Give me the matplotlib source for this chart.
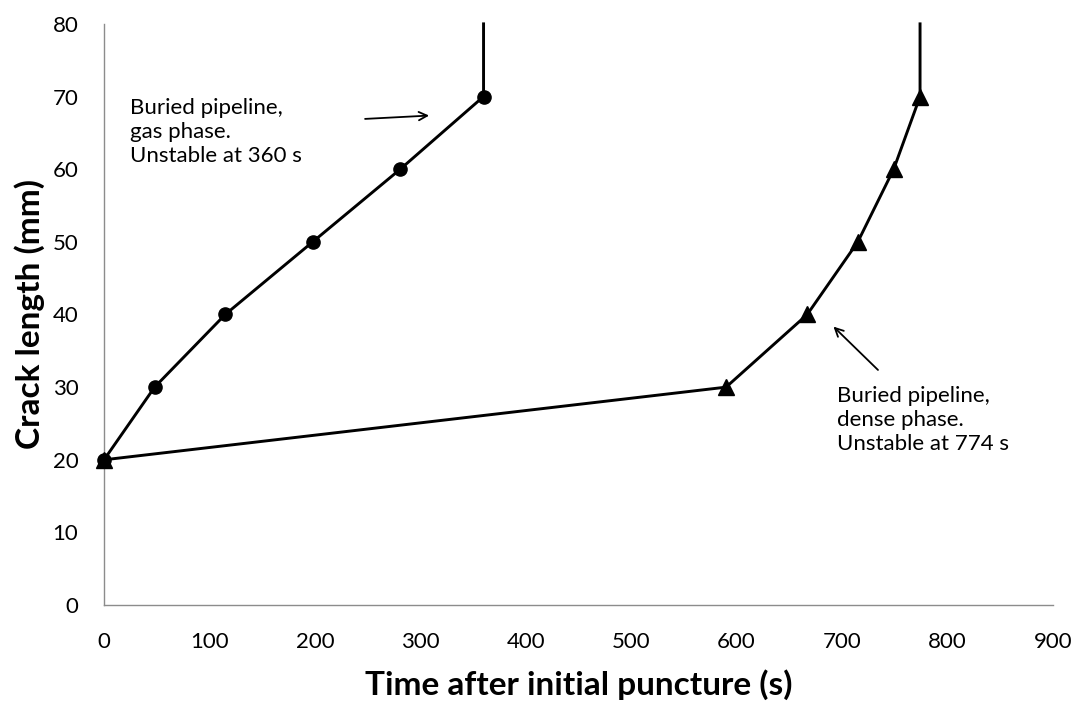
import matplotlib.pyplot as plt

plt.rcParams['font.family'] = ['Lato', 'DejaVu Sans']

# gas phase: crack length vs time, last point goes vertical (unstable)
gas_time = [0, 48, 115, 198, 281, 360, 360]
gas_crack = [20, 30, 40, 50, 60, 70, 80]

# dense phase
dense_time = [0, 590, 667, 715, 749, 774, 774]
dense_crack = [20, 30, 40, 50, 60, 70, 80]

x_ticks = [0, 100, 200, 300, 400, 500, 600, 700, 800, 900]
y_ticks = [0, 10, 20, 30, 40, 50, 60, 70, 80]

fig = plt.figure(figsize=(10.81, 7.02), dpi=100)
ax = fig.add_axes([0.0962, 0.138, 0.8778, 0.828])

ax.plot(dense_time, dense_crack, color='black', lw=2.1, marker='^', ms=12,
        markevery=list(range(len(dense_time) - 1)), clip_on=False, zorder=3)
ax.plot(gas_time, gas_crack, color='black', lw=2.1, marker='o', ms=9.5,
        markevery=list(range(len(gas_time) - 1)), clip_on=False, zorder=4)

ax.set_xlim(0, 900)
ax.set_ylim(0, 80)
ax.set_xticks(x_ticks)
ax.set_yticks(y_ticks)
ax.tick_params(length=0, labelsize=16)
ax.tick_params(axis='x', pad=19)
ax.tick_params(axis='y', pad=18.5)

for s in ['top', 'right']:
    ax.spines[s].set_visible(False)
for s in ['left', 'bottom']:
    ax.spines[s].set_color('#8c8c8c')
    ax.spines[s].set_linewidth(1.0)

ax.set_xlabel('Time after initial puncture (s)', fontsize=24, fontweight='bold', labelpad=13)
ax.set_ylabel('Crack length (mm)', fontsize=24, fontweight='bold', labelpad=5)

# annotations
ax.text(24.7, 69.8, 'Buried pipeline,\ngas phase.\nUnstable at 360 s', fontsize=16,
        va='top', ha='left', linespacing=1.25)
ax.annotate('', xy=(311, 67.4), xytext=(245, 66.9),
            arrowprops=dict(arrowstyle='->', color='black', lw=1.3, mutation_scale=15))

ax.text(695, 30.2, 'Buried pipeline,\ndense phase.\nUnstable at 774 s', fontsize=16,
        va='top', ha='left', linespacing=1.25)
ax.annotate('', xy=(690, 38.6), xytext=(736, 32.1),
            arrowprops=dict(arrowstyle='->', color='black', lw=1.3, mutation_scale=15))

fig.savefig('out.png', dpi=100)
